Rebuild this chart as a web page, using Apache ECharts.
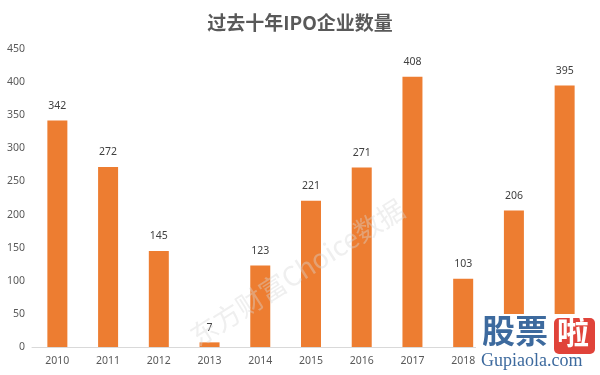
<!DOCTYPE html>
<html><head><meta charset="utf-8">
<script src="https://cdn.jsdelivr.net/npm/echarts@6/dist/echarts.min.js"></script>
<style>html,body{margin:0;padding:0;background:#fff}#c{width:600px;height:375px}</style>
</head><body><div id="c"></div>
<script>
const categories = ['2010','2011','2012','2013','2014','2015','2016','2017','2018','2019','2020'];
const ipoCounts = [342, 272, 145, 7, 123, 221, 271, 408, 103, 206, 395];
const yTicks = [0, 50, 100, 150, 200, 250, 300, 350, 400, 450];

const chart = echarts.init(document.getElementById('c'));
chart.setOption({
  animation: false,
  title: {
    text: '过去十年IPO企业数量', left: 'center', top: 8,
    textStyle: {fontFamily: 'Noto Sans CJK SC', fontSize: 19, fontWeight: 'bold', color: '#595959'}
  },
  grid: {left: 32, right: 10, top: 49, bottom: 28},
  xAxis: {
    type: 'category', data: categories,
    axisLine: {lineStyle: {color: '#d9d9d9'}}, axisTick: {show: false},
    axisLabel: {color: '#595959', fontSize: 10.5, fontFamily: 'Noto Sans', margin: 9}
  },
  yAxis: {
    type: 'value', min: yTicks[0], max: yTicks[yTicks.length-1], interval: 50,
    splitLine: {show: false}, axisLine: {show: false}, axisTick: {show: false},
    axisLabel: {color: '#595959', fontSize: 10.5, fontFamily: 'Noto Sans', margin: 7}
  },
  series: [{
    type: 'bar', data: ipoCounts, barWidth: 20,
    itemStyle: {color: '#ED7D31'},
    label: {show: true, position: 'top', distance: 9, color: '#404040', fontSize: 10.5, fontFamily: 'Noto Sans'}
  }],
  graphic: [
    {type: 'text', x: 200, y: 350, rotation: Math.PI * 0.18, z: 10,
     style: {text: '东方财富Choice数据', x: 0, y: 0, verticalAlign: 'bottom',
             font: '27px "Noto Sans CJK SC"', fill: 'rgba(215,215,215,0.4)'}},
    {type: 'rect', shape: {x: 476, y: 314, width: 124, height: 61}, style: {fill: '#fff'}, z: 20},
    {type: 'text', left: 482, top: 314, z: 21,
     style: {text: '股票', font: 'bold 33px "Noto Sans CJK SC"', fill: '#3d6a9e'}},
    {type: 'rect', shape: {x: 554, y: 318, width: 41, height: 36, r: 5}, style: {fill: '#e0433a'}, z: 21},
    {type: 'text', left: 557, top: 316, z: 22,
     style: {text: '啦', font: 'bold 32px "Noto Sans CJK SC"', fill: '#fff'}},
    {type: 'text', left: 481, top: 352, z: 21,
     style: {text: 'Gupiaola.com', font: '18px "Liberation Serif"', fill: '#3d6a9e'}}
  ]
});
</script></body></html>
